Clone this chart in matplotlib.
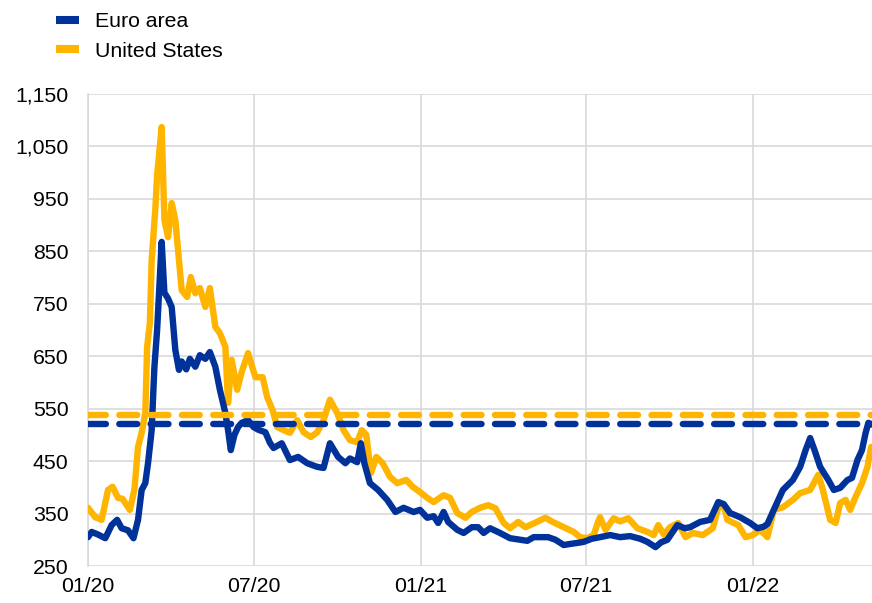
import matplotlib
matplotlib.use('Agg')
import matplotlib.pyplot as plt
import matplotlib.dates as mdates
from matplotlib.lines import Line2D
import numpy as np
import pandas as pd

plt.rcParams['font.family'] = ['Liberation Sans', 'DejaVu Sans']
plt.rcParams['font.size'] = 15.3

# Euro area
euro_dates = [
    '2020-01-01', '2020-01-05', '2020-01-12', '2020-01-20', '2020-01-27', '2020-02-02',
    '2020-02-07', '2020-02-14', '2020-02-20', '2020-02-25', '2020-02-29', '2020-03-04',
    '2020-03-07', '2020-03-11', '2020-03-14', '2020-03-17', '2020-03-20', '2020-03-22',
    '2020-03-25', '2020-03-29', '2020-04-02', '2020-04-06', '2020-04-10', '2020-04-13',
    '2020-04-18', '2020-04-22', '2020-04-28', '2020-05-03', '2020-05-09', '2020-05-14',
    '2020-05-20', '2020-05-25', '2020-05-31', '2020-06-03', '2020-06-06', '2020-06-10',
    '2020-06-14', '2020-06-18', '2020-06-25', '2020-07-01', '2020-07-06', '2020-07-14',
    '2020-07-19', '2020-07-23', '2020-08-01', '2020-08-10', '2020-08-19', '2020-08-29',
    '2020-09-09', '2020-09-16', '2020-09-23', '2020-10-02', '2020-10-10', '2020-10-15',
    '2020-10-23', '2020-10-27', '2020-10-31', '2020-11-06', '2020-11-15', '2020-11-25',
    '2020-12-04', '2020-12-13', '2020-12-24', '2020-12-31', '2021-01-08', '2021-01-15',
    '2021-01-20', '2021-01-26', '2021-01-31', '2021-02-10', '2021-02-17', '2021-02-26',
    '2021-03-05', '2021-03-11', '2021-03-18', '2021-03-29', '2021-04-09', '2021-04-20',
    '2021-04-28', '2021-05-05', '2021-05-12', '2021-05-21', '2021-05-29', '2021-06-07',
    '2021-06-14', '2021-06-22', '2021-06-29', '2021-07-08', '2021-07-17', '2021-07-28',
    '2021-08-08', '2021-08-19', '2021-08-30', '2021-09-07', '2021-09-16', '2021-09-22',
    '2021-09-29', '2021-10-10', '2021-10-18', '2021-10-24', '2021-11-04', '2021-11-15',
    '2021-11-24', '2021-11-30', '2021-12-07', '2021-12-18', '2021-12-29', '2022-01-06',
    '2022-01-13', '2022-01-17', '2022-01-24', '2022-02-03', '2022-02-14', '2022-02-22',
    '2022-02-28', '2022-03-05', '2022-03-10', '2022-03-16', '2022-03-25', '2022-03-31',
    '2022-04-07', '2022-04-15', '2022-04-20', '2022-04-26', '2022-05-01', '2022-05-05',
    '2022-05-08', '2022-05-11']
euro_vals = [
    305, 315, 310, 303, 328, 338,
    322, 318, 303, 338, 395, 408,
    446, 509, 629, 700, 800, 868,
    771, 760, 744, 662, 624, 640,
    625, 645, 630, 652, 645, 658,
    630, 586, 542, 509, 471, 500,
    515, 523, 528, 515, 510, 505,
    485, 475, 484, 452, 458, 446,
    439, 437, 484, 458, 446, 455,
    448, 484, 445, 408, 395, 376,
    353, 361, 353, 357, 342, 345,
    332, 353, 334, 319, 313, 324,
    324, 313, 322, 313, 303, 300,
    298, 305, 305, 305, 300, 290,
    292, 294, 296, 302, 305, 309,
    305, 307, 302, 296, 286, 295,
    300, 328, 322, 324, 334, 338,
    372, 368, 351, 343, 332, 322,
    325, 330, 357, 395, 414, 439,
    471, 494, 470, 439, 414, 395,
    399, 414, 418, 452, 471, 504,
    523, 520]

# United States
us_dates = [
    '2020-01-01', '2020-01-09', '2020-01-16', '2020-01-23', '2020-01-28', '2020-02-03',
    '2020-02-08', '2020-02-16', '2020-02-21', '2020-02-25', '2020-02-29', '2020-03-04',
    '2020-03-06', '2020-03-09', '2020-03-11', '2020-03-15', '2020-03-17', '2020-03-20',
    '2020-03-22', '2020-03-25', '2020-03-29', '2020-04-02', '2020-04-06', '2020-04-09',
    '2020-04-13', '2020-04-19', '2020-04-23', '2020-04-28', '2020-05-03', '2020-05-09',
    '2020-05-14', '2020-05-20', '2020-05-25', '2020-05-31', '2020-06-03', '2020-06-07',
    '2020-06-13', '2020-06-18', '2020-06-25', '2020-07-03', '2020-07-11', '2020-07-16',
    '2020-07-22', '2020-07-27', '2020-08-03', '2020-08-10', '2020-08-18', '2020-08-25',
    '2020-09-02', '2020-09-09', '2020-09-16', '2020-09-23', '2020-10-01', '2020-10-08',
    '2020-10-15', '2020-10-23', '2020-10-28', '2020-11-02', '2020-11-07', '2020-11-13',
    '2020-11-20', '2020-11-28', '2020-12-06', '2020-12-16', '2020-12-23', '2020-12-31',
    '2021-01-08', '2021-01-15', '2021-01-26', '2021-02-02', '2021-02-10', '2021-02-19',
    '2021-02-26', '2021-03-07', '2021-03-16', '2021-03-24', '2021-04-02', '2021-04-09',
    '2021-04-18', '2021-04-26', '2021-05-06', '2021-05-18', '2021-05-26', '2021-06-07',
    '2021-06-18', '2021-06-25', '2021-07-03', '2021-07-10', '2021-07-14', '2021-07-17',
    '2021-07-23', '2021-08-01', '2021-08-08', '2021-08-17', '2021-08-27', '2021-09-07',
    '2021-09-14', '2021-09-19', '2021-09-25', '2021-10-02', '2021-10-11', '2021-10-19',
    '2021-10-27', '2021-11-07', '2021-11-18', '2021-11-24', '2021-11-30', '2021-12-04',
    '2021-12-11', '2021-12-16', '2021-12-24', '2022-01-01', '2022-01-09', '2022-01-17',
    '2022-01-24', '2022-02-03', '2022-02-14', '2022-02-22', '2022-03-05', '2022-03-14',
    '2022-03-19', '2022-03-27', '2022-04-02', '2022-04-07', '2022-04-13', '2022-04-18',
    '2022-04-24', '2022-05-01', '2022-05-07', '2022-05-11']
us_vals = [
    361, 343, 338, 395, 401, 380,
    378, 357, 395, 477, 504, 542,
    668, 713, 834, 930, 995, 1050,
    1087, 910, 877, 942, 910, 853,
    776, 763, 801, 770, 780, 744,
    780, 706, 694, 668, 561, 643,
    586, 620, 656, 610, 610, 572,
    547, 515, 509, 504, 528, 505,
    496, 505, 528, 567, 542, 509,
    490, 486, 509, 500, 427, 458,
    446, 420, 408, 414, 401, 391,
    380, 372, 385, 380, 351, 342,
    353, 361, 366, 360, 332, 322,
    334, 324, 332, 342, 334, 324,
    315, 305, 303, 309, 330, 343,
    319, 341, 335, 341, 322, 315,
    309, 328, 310, 324, 332, 305,
    313, 309, 322, 362, 366, 338,
    332, 328, 305, 309, 319, 305,
    357, 362, 376, 389, 395, 424,
    395, 338, 332, 370, 376, 357,
    382, 408, 439, 477]

# long-run averages (dashed)
euro_avg = 521
us_avg = 538

blue = '#003299'
yellow = '#FFB400'

fig = plt.figure(figsize=(8.72, 6.03), dpi=100)
ax = fig.add_axes([88/872, 1-566/603, 1-88/872, (566-94)/603])

lw = 4.6
ax.plot(pd.to_datetime(us_dates), us_vals, color=yellow, lw=lw,
        solid_joinstyle='round', solid_capstyle='round', zorder=3)
ax.plot(pd.to_datetime(euro_dates), euro_vals, color=blue, lw=lw,
        solid_joinstyle='round', solid_capstyle='round', zorder=4)
ax.axhline(us_avg, color=yellow, lw=lw, ls=(0, (2.8, 2.1)), dash_capstyle='round', zorder=5)
ax.axhline(euro_avg, color=blue, lw=lw, ls=(0, (2.8, 2.1)), dash_capstyle='round', zorder=5)

ax.set_ylim(250, 1150)
ax.set_yticks(np.arange(250, 1151, 100))
ax.yaxis.set_major_formatter(matplotlib.ticker.FuncFormatter(lambda v, p: f'{int(v):,}'))
ax.set_xlim(pd.Timestamp('2020-01-01'), pd.Timestamp('2022-05-12'))
ax.xaxis.set_major_locator(mdates.MonthLocator(bymonth=[1, 7]))
ax.xaxis.set_major_formatter(mdates.DateFormatter('%m/%y'))

ax.grid(True, color='#d9d9d9', lw=1.2)
ax.set_axisbelow(True)
for s in ['top', 'right', 'bottom']:
    ax.spines[s].set_visible(False)
ax.spines['left'].set_color('#d9d9d9')
ax.spines['left'].set_linewidth(1.2)
ax.tick_params(axis='both', length=0, labelsize=15.3, colors='black')
ax.tick_params(axis='y', pad=14)
ax.tick_params(axis='x', pad=8)

handles = [Line2D([], [], color=blue, lw=5.8, solid_capstyle='butt'),
           Line2D([], [], color=yellow, lw=5.8, solid_capstyle='butt')]
fig.legend(handles, ['Euro area', 'United States'], loc='upper left',
           bbox_to_anchor=(56/872, 1-12/603), frameon=False, borderpad=0,
           handlelength=1.08, handletextpad=0.75, labelspacing=0.5,
           borderaxespad=0, fontsize=15.3)

fig.savefig('out.png', dpi=100)
